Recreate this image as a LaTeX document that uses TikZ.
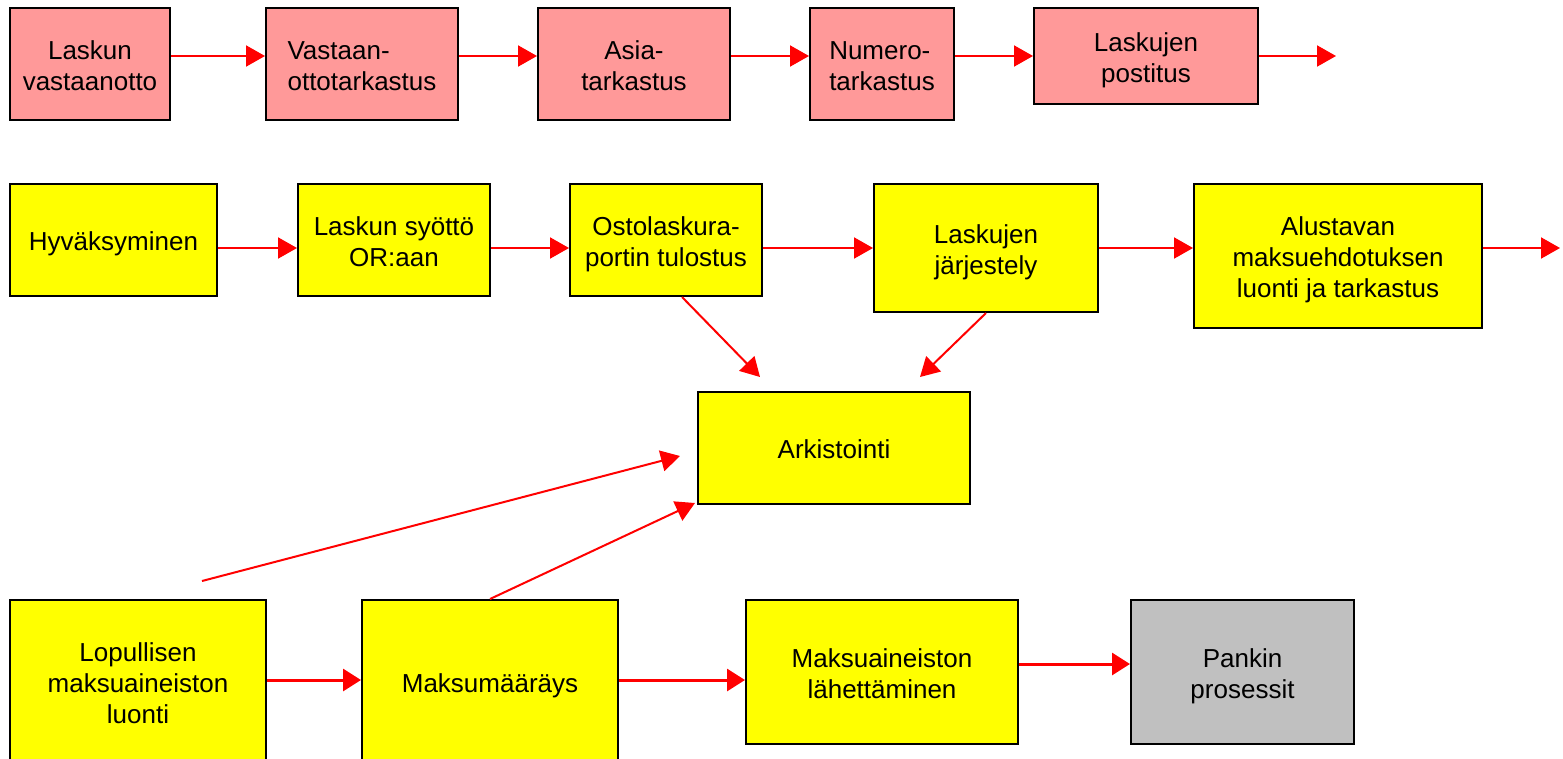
\documentclass[tikz,border=0pt]{standalone}
\usepackage{fontspec}
\setmainfont{Liberation Sans}
\usetikzlibrary{arrows.meta}
\definecolor{boxpink}{HTML}{FF9999}
\definecolor{boxyellow}{HTML}{FFFF00}
\definecolor{boxgrey}{HTML}{C0C0C0}
\definecolor{flowred}{HTML}{FF0000}
% fixed height of the first text line, so that box texts are centred by whole line boxes
\newcommand\firstline{\rule{0pt}{27pt}}
\begin{document}
\begin{tikzpicture}[x=1pt,y=-1pt,
  box/.style={draw=black, line width=2pt, inner sep=0pt, align=center,
    font=\fontsize{26}{31}\selectfont,
    execute at end node={\rule[-5.5pt]{0pt}{0pt}}},
  sz/.style 2 args={minimum width=#1pt, minimum height=#2pt},
  pinkbox/.style={box, fill=boxpink},
  yellowbox/.style={box, fill=boxyellow},
  greybox/.style={box, fill=boxgrey},
  arr/.style={draw=flowred, line width=2pt,
    -{Triangle[length=19pt,width=21pt,fill=flowred]}},
  thickarr/.style={draw=flowred, line width=3pt,
    -{Triangle[length=18pt,width=22pt,fill=flowred]}}]
\useasboundingbox (0,0) rectangle (1563,758);

% invoice reception row
\node[pinkbox, sz={160}{112}] (a1) at (90,64) {\firstline Laskun\\vastaanotto};
\node[pinkbox, sz={192}{112}, align=left] (a2) at (362,64) {\firstline Vastaan-\\ottotarkastus};
\node[pinkbox, sz={192}{112}] (a3) at (634,64) {\firstline Asia-\\tarkastus};
\node[pinkbox, sz={144}{112}, align=left] (a4) at (882,64) {\firstline Numero-\\tarkastus};
\node[pinkbox, sz={224}{96}] (a5) at (1146,56) {\firstline Laskujen\\postitus};

% approval and processing row
\node[yellowbox, sz={207}{112}] (b1) at (113.5,240) {\firstline Hyväksyminen};
\node[yellowbox, sz={192}{112}] (b2) at (394,240) {\firstline Laskun syöttö\\OR:aan};
\node[yellowbox, sz={192}{112}] (b3) at (666,240) {\firstline Ostolaskura-\\portin tulostus};
\node[yellowbox, sz={224}{128}] (b4) at (986,248) {\firstline Laskujen\\järjestely};
\node[yellowbox, sz={288}{144}] (b5) at (1338,256) {\firstline Alustavan\\maksuehdotuksen\\luonti ja tarkastus};

% archive
\node[yellowbox, sz={272}{112}] (arch) at (834,448) {\firstline Arkistointi};

% payment row
\node[yellowbox, sz={256}{164}] (c1) at (138,682) {\firstline Lopullisen\\maksuaineiston\\luonti};
\node[yellowbox, sz={256}{164}] (c2) at (490,682) {\firstline Maksumääräys};
\node[yellowbox, sz={272}{144}] (c3) at (882,672) {\firstline Maksuaineiston\\lähettäminen};
\node[greybox, sz={223}{144}] (c4) at (1242.5,672) {\firstline Pankin\\prosessit};

% levels of the horizontal flows
\coordinate (r1) at (0,56);
\coordinate (r2) at (0,248);
\coordinate (r3) at (0,680);
\coordinate (r3b) at (0,664);
\coordinate (endA) at (1336,56);
\coordinate (endB) at (1560,248);

\draw[arr] (a1.east |- r1) -- (a2.west |- r1);
\draw[arr] (a2.east |- r1) -- (a3.west |- r1);
\draw[arr] (a3.east |- r1) -- (a4.west |- r1);
\draw[arr] (a4.east |- r1) -- (a5.west |- r1);
\draw[arr] (a5.east |- r1) -- (endA);

\draw[arr] (b1.east |- r2) -- (b2.west |- r2);
\draw[arr] (b2.east |- r2) -- (b3.west |- r2);
\draw[arr] (b3.east |- r2) -- (b4.west |- r2);
\draw[arr] (b4.east |- r2) -- (b5.west |- r2);
\draw[arr] (b5.east |- r2) -- (endB);

\draw[thickarr] (c1.east |- r3) -- (c2.west |- r3);
\draw[thickarr] (c2.east |- r3) -- (c3.west |- r3);
\draw[thickarr] (c3.east |- r3b) -- (c4.west |- r3b);

% flows into the archive
\coordinate (tip1) at (760,377);
\coordinate (tip2) at (920,377);
\coordinate (tip3) at (680,456);
\coordinate (tip4) at (695,503);
\draw[arr] ([xshift=16pt]b3.south) -- (tip1);
\draw[arr] (b4.south) -- (tip2);
\draw[arr] ([xshift=64pt,yshift=18pt]c1.north) -- (tip3);
\draw[arr] (c2.north) -- (tip4);
\end{tikzpicture}
\end{document}
